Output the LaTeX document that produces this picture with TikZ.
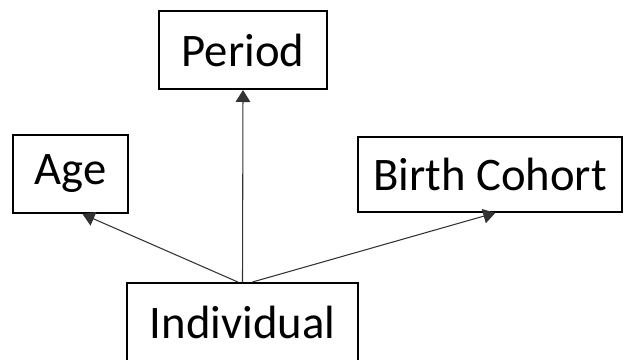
\documentclass[tikz,border=0pt]{standalone}
\usepackage{fontspec}
\setmainfont{Carlito}
\usetikzlibrary{arrows.meta}
\tikzset{
  box/.style={draw=black, line width=1.5pt, fill=white, inner sep=0pt,
    font=\fontsize{35}{42}\selectfont},
  link/.style={draw=black!80, line width=0.8pt, -{Triangle[length=9pt,width=11pt]}}
}
\begin{document}
\begin{tikzpicture}[x=0.75pt,y=-0.75pt]
\useasboundingbox (0,0) rectangle (629,360);
% boxes
\node[box, minimum width=126pt, minimum height=58.5pt] (period) at (243,50) {Period};
\node[box, minimum width=86pt, minimum height=58.5pt] (age) at (70.5,174) {Age};
\node[box, minimum width=198pt, minimum height=56pt] (cohort) at (490,174.5) {Birth Cohort};
\node[box, minimum width=173pt, minimum height=58.5pt] (indiv) at (242.5,322) {Individual};
% links
\coordinate (ageend) at ([xshift=9pt]age.south);
\coordinate (cohortend) at ([xshift=4pt]cohort.south);
\draw[link] ([xshift=-3.5pt]indiv.north) -- (ageend);
\draw[link] (indiv.north) -- (period.south);
\draw[link] ([xshift=7.5pt]indiv.north) -- (cohortend);
\end{tikzpicture}
\end{document}
